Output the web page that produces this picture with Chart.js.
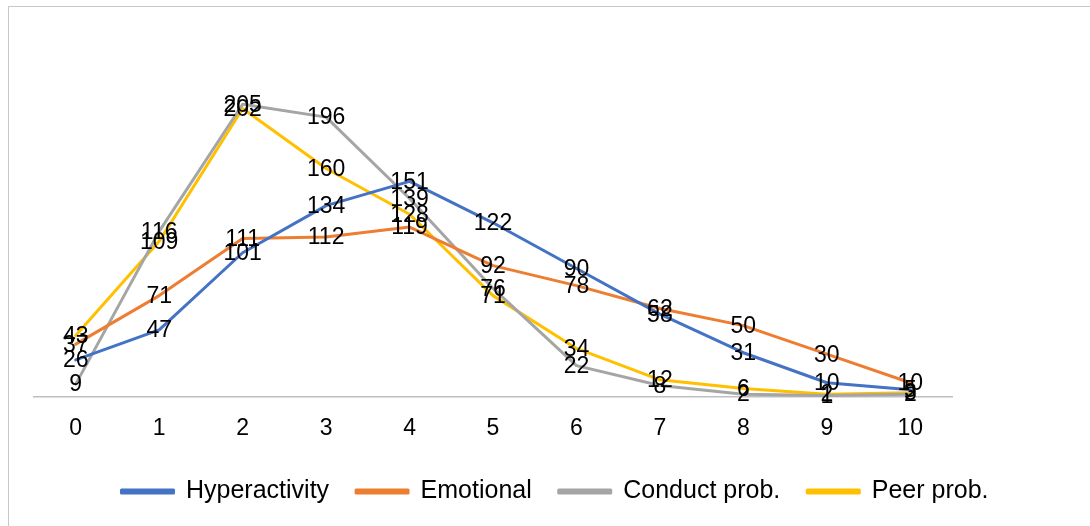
<!DOCTYPE html>
<html>
<head>
<meta charset="utf-8">
<script src="https://cdn.jsdelivr.net/npm/chart.js@4.4.1/dist/chart.umd.min.js"></script>
<style>
  html, body { margin: 0; padding: 0; background: #fff; overflow: hidden; }
  #frame {
    position: absolute; left: 8px; top: 6px; width: 1100px; height: 540px;
    border: 1px solid #c8c8c8; box-sizing: border-box;
  }
  #wrap { position: absolute; left: 0; top: 0; width: 1090px; height: 526px; }
</style>
</head>
<body>
<div id="frame"></div>
<div id="wrap"><canvas id="chart" width="1090" height="526"></canvas></div>
<script>
// Score categories 0..10
const categories = ['0', '1', '2', '3', '4', '5', '6', '7', '8', '9', '10'];

// Counts per score for each subscale
const hyperactivity = [26, 47, 101, 134, 151, 122, 90, 58, 31, 10, 5];
const emotional     = [37, 71, 111, 112, 119, 92, 78, 62, 50, 30, 10];
const conductProb   = [9, 116, 205, 196, 139, 76, 22, 8, 2, 1, 2];
const peerProb      = [43, 109, 202, 160, 128, 71, 34, 12, 6, 2, 3];

const seriesNames = ['Hyperactivity', 'Emotional', 'Conduct prob.', 'Peer prob.'];
const seriesColors = ['#4472C4', '#ED7D31', '#A5A5A5', '#FFC000'];

const FONT = '"Liberation Sans", Arial, sans-serif';

// Writes each point's value centred on the point
const pointValueLabels = {
  id: 'pointValueLabels',
  afterDatasetsDraw(chart) {
    const ctx = chart.ctx;
    ctx.save();
    ctx.font = '23px ' + FONT;
    ctx.fillStyle = '#000000';
    ctx.textAlign = 'center';
    ctx.textBaseline = 'middle';
    chart.data.datasets.forEach((ds, i) => {
      const meta = chart.getDatasetMeta(i);
      meta.data.forEach((pt, j) => {
        ctx.fillText(String(ds.data[j]), pt.x, pt.y + 1);
      });
    });
    ctx.restore();
  }
};

const seriesData = [hyperactivity, emotional, conductProb, peerProb];

new Chart(document.getElementById('chart'), {
  type: 'line',
  data: {
    labels: categories,
    datasets: seriesData.map((values, i) => ({
      label: seriesNames[i],
      data: values,
      borderColor: seriesColors[i],
      backgroundColor: seriesColors[i],
      borderWidth: 3,
      borderJoinStyle: 'round',
      borderCapStyle: 'round',
      pointRadius: 0,
      tension: 0,
      fill: false,
      clip: false
    }))
  },
  options: {
    responsive: false,
    animation: false,
    events: [],
    layout: { padding: { left: 20, right: 0, top: 40, bottom: 12 } },
    plugins: {
      tooltip: { enabled: false },
      legend: {
        position: 'bottom',
        labels: {
          boxWidth: 52,
          boxHeight: 3,
          padding: 27,
          color: '#000000',
          font: { family: FONT, size: 25 }
        }
      }
    },
    scales: {
      x: {
        offset: true,
        grid: { drawOnChartArea: false, drawTicks: false },
        border: { display: true, color: '#bfbfbf', width: 1.5 },
        ticks: {
          padding: 18,
          color: '#000000',
          font: { family: FONT, size: 23 },
          maxRotation: 0
        },
        afterFit(scale) { scale.height = 55; }
      },
      y: {
        min: 0,
        max: 250,
        grid: { display: false },
        border: { display: false },
        ticks: { display: false },
        afterFit(scale) { scale.width = 14; }
      },
      yRight: {
        position: 'right',
        min: 0,
        max: 1,
        grid: { display: false },
        border: { display: false },
        ticks: { display: false },
        afterFit(scale) { scale.width = 138; }
      }
    }
  },
  plugins: [pointValueLabels]
});
</script>
</body>
</html>
